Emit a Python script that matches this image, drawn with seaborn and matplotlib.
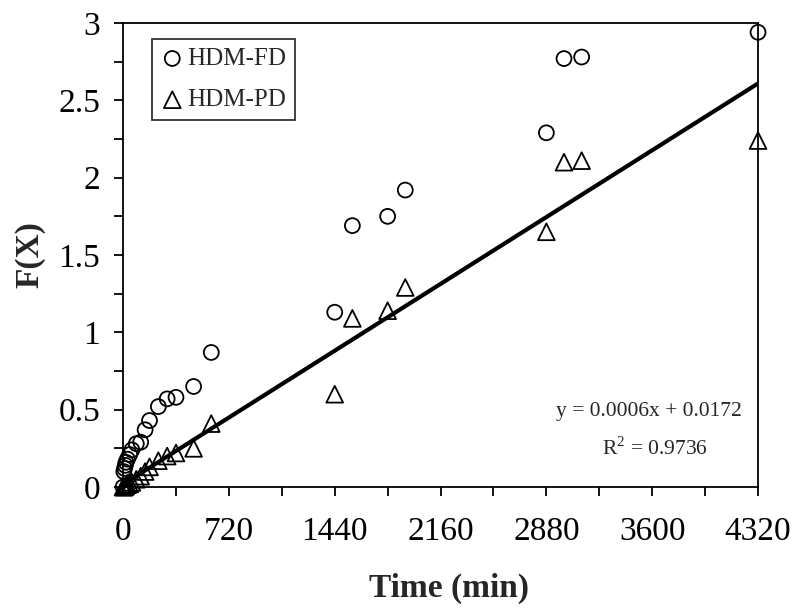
import matplotlib
matplotlib.use("Agg")
import matplotlib.pyplot as plt
import seaborn as sns
import pandas as pd

# HDM-FD (circles) and HDM-PD (triangles), time in minutes
fd_time = [0, 5, 10, 15, 20, 30, 45, 60, 90, 120, 150, 180, 240, 300, 360, 480, 600,
           1440, 1560, 1800, 1920, 2880, 3000, 3120, 4320]
fd_val = [0.0, 0.10, 0.12, 0.14, 0.16, 0.18, 0.21, 0.24, 0.28, 0.29, 0.37, 0.43, 0.52,
          0.57, 0.58, 0.65, 0.87, 1.13, 1.69, 1.75, 1.92, 2.29, 2.77, 2.78, 2.94]

pd_time = [0, 5, 10, 15, 20, 30, 45, 60, 90, 120, 150, 180, 240, 300, 360, 480, 600,
           1440, 1560, 1800, 1920, 2880, 3000, 3120, 4320]
pd_val = [0.0, 0.0, 0.0, 0.005, 0.01, 0.015, 0.02, 0.03, 0.05, 0.07, 0.10, 0.13, 0.17,
          0.20, 0.22, 0.25, 0.41, 0.60, 1.09, 1.14, 1.29, 1.65, 2.10, 2.11, 2.24]

# linear fit shown on the chart
fit_time = [0, 4320]
fit_val = [0.0172, 2.6092]
fit_eq = "y = 0.0006x + 0.0172"
fit_r2 = "R$^2$ = 0.9736"

sns.set_theme(style="ticks")
plt.rcParams['font.family'] = ['Liberation Serif', 'DejaVu Serif']
plt.rcParams['mathtext.fontset'] = 'custom'
plt.rcParams['mathtext.rm'] = 'Liberation Serif'

fig = plt.figure(figsize=(7.94, 6.10), dpi=100)
ax = fig.add_axes([0.155, 0.2016, 0.7997, 0.7607])

df_fd = pd.DataFrame({"t": fd_time, "v": fd_val})
df_pd = pd.DataFrame({"t": pd_time, "v": pd_val})
df_fit = pd.DataFrame({"t": fit_time, "v": fit_val})

sns.lineplot(data=df_fit, x="t", y="v", ax=ax, color="black", linewidth=3, zorder=2)
sns.scatterplot(data=df_fd, x="t", y="v", ax=ax, marker="o", s=115, facecolors="none",
                edgecolor="black", linewidth=1.3, label="HDM-FD", zorder=3, clip_on=False)
sns.scatterplot(data=df_pd, x="t", y="v", ax=ax, marker="^", s=145, facecolors="none",
                edgecolor="black", linewidth=1.3, label="HDM-PD", zorder=3, clip_on=False)

ax.set_xlim(0, 4320)
ax.set_ylim(0, 3)
ax.set_xticks(range(0, 4321, 360))
ax.set_xticklabels([str(v) if v % 720 == 0 else "" for v in range(0, 4321, 360)])
yt = [i * 0.25 for i in range(13)]
ax.set_yticks(yt)
ax.set_yticklabels([("%g" % v) if (i % 2 == 0) else "" for i, v in enumerate(yt)])
ax.tick_params(axis="both", direction="out", length=6.5, width=1.3, labelsize=24,
               colors="black")
ax.tick_params(axis="y", pad=10)
ax.tick_params(axis="x", pad=15)
for s in ax.spines.values():
    s.set_linewidth(1.3)
    s.set_color("black")
    s.set_visible(True)

ax.set_xlabel("Time (min)", fontsize=24, fontweight="bold", va="center")
ax.set_ylabel("F(X)", fontsize=24, fontweight="bold", va="center")
ax.xaxis.set_label_coords(0.513, -0.219)
ax.yaxis.set_label_coords(-0.146, 0.5)

ax.text(3575, 0.49, fit_eq, fontsize=15.5, ha="center", va="center")
ax.text(3620, 0.25, fit_r2, fontsize=15.5, ha="center", va="center")

leg = ax.legend(loc="upper left", bbox_to_anchor=(0.046, 0.966), fontsize=18,
                frameon=True, fancybox=False, edgecolor="black", handletextpad=0.15,
                borderpad=0.35, labelspacing=0.75, handlelength=0.9, borderaxespad=0)
leg.get_frame().set_linewidth(1.3)

fig.savefig("out.png", dpi=100)
